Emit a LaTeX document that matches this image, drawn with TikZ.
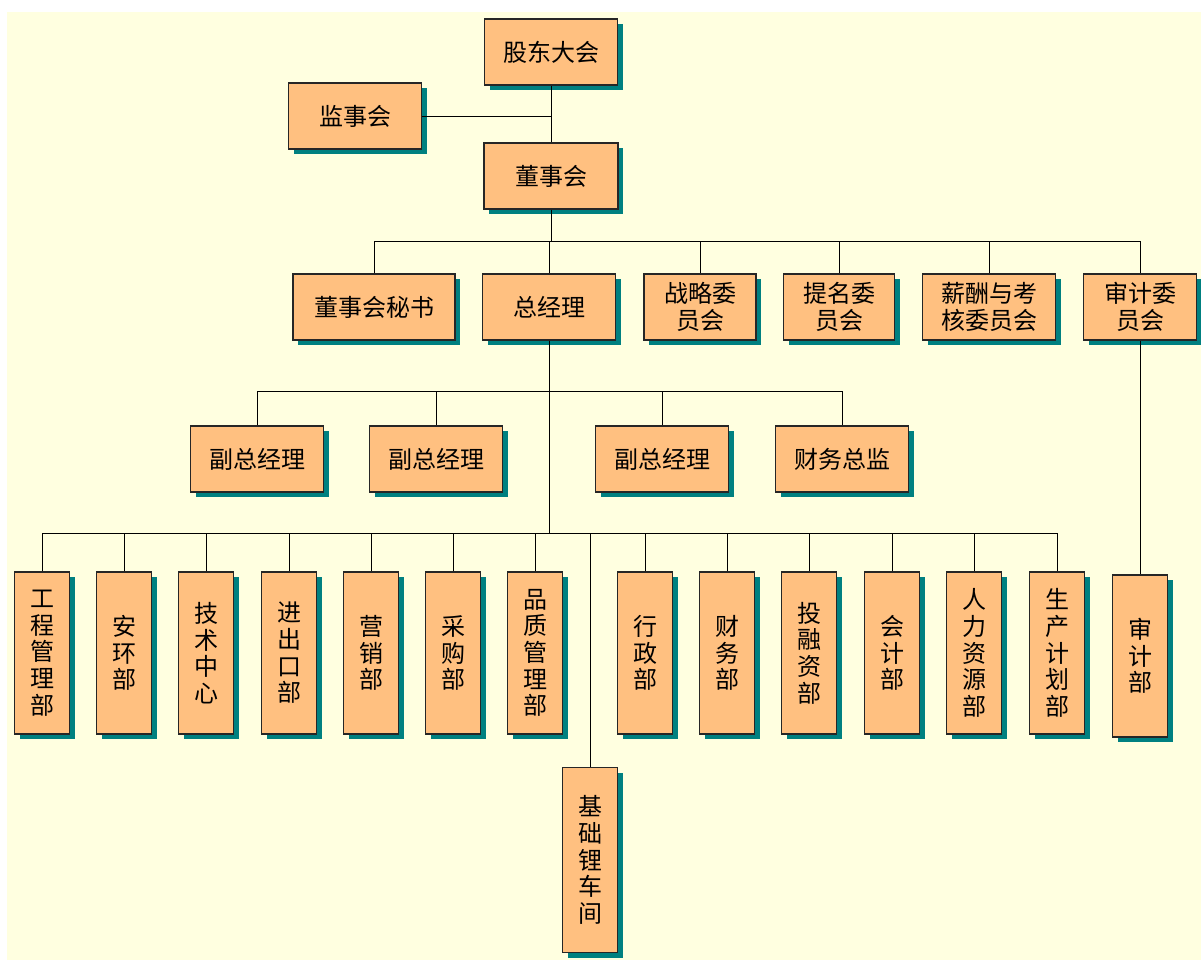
\documentclass[tikz,border=0pt]{standalone}
\usepackage{fontspec}
\newfontfamily\cjk{Noto Sans CJK SC}
\usetikzlibrary{shadows}
\definecolor{paper}{HTML}{FFFFE0}
\definecolor{peach}{HTML}{FFC080}
\definecolor{shade}{HTML}{008080}

\begin{document}
\begin{tikzpicture}[x=0.75pt, y=-0.75pt, line width=0.75pt,
	unit/.style={draw=black!85, line width=1pt, fill=peach, inner sep=0pt, align=center,
		font=\cjk\fontsize{18}{20}\selectfont,
		drop shadow={shadow xshift=3.75pt, shadow yshift=-3.75pt, fill=shade, opacity=1}},
	wide/.style={unit, minimum width=#1*0.75pt, minimum height=49.5pt},
	tall/.style={unit, minimum width=41.25pt, minimum height=#1*0.75pt}]

	% paper
	\fill[paper] (7,12) rectangle (1201,960);
	\useasboundingbox (0,0) rectangle (1201,960);

	% top
	\node[wide=133] (gudong) at (551,52) {股东大会};
	\node[wide=133] (jianshi) at (355,116) {监事会};
	\node[wide=134] (dongshi) at (551,176) {董事会};

	% board level
	\node[wide=162] (mishu) at (374,307) {董事会秘书};
	\node[wide=133] (zongjl) at (549,307) {总经理};
	\node[wide=112] (zhanlue) at (700,307) {战略委\\员会};
	\node[wide=111] (timing) at (839,307) {提名委\\员会};
	\node[wide=133] (xinchou) at (989,307) {薪酬与考\\核委员会};
	\node[wide=113] (shenjiwy) at (1140,307) {审计委\\员会};

	% deputies
	\node[wide=133] (fu1) at (257,459) {副总经理};
	\node[wide=133] (fu2) at (436,459) {副总经理};
	\node[wide=133] (fu3) at (662,459) {副总经理};
	\node[wide=133] (caiwuzj) at (842,459) {财务总监};

	% departments
	\node[tall=162] (gongcheng) at (42,653) {工\\程\\管\\理\\部};
	\node[tall=162] (anhuan) at (124,653) {安\\环\\部};
	\node[tall=162] (jishu) at (206,653) {技\\术\\中\\心};
	\node[tall=162] (jinchukou) at (289,653) {进\\出\\口\\部};
	\node[tall=162] (yingxiao) at (371,653) {营\\销\\部};
	\node[tall=162] (caigou) at (453,653) {采\\购\\部};
	\node[tall=162] (pinzhi) at (535,653) {品\\质\\管\\理\\部};
	\node[tall=162] (xingzheng) at (645,653) {行\\政\\部};
	\node[tall=162] (caiwu) at (727,653) {财\\务\\部};
	\node[tall=162] (tourong) at (809,653) {投\\融\\资\\部};
	\node[tall=162] (kuaiji) at (892,653) {会\\计\\部};
	\node[tall=162] (renli) at (974,653) {人\\力\\资\\源\\部};
	\node[tall=162] (shengchan) at (1057,653) {生\\产\\计\\划\\部};
	\node[tall=185] (jichu) at (590,860) {基\\础\\锂\\车\\间};
	\node[tall=162] (shenjibu) at (1140,656) {审\\计\\部};

	% bus heights
	\coordinate (busA) at (0,241);
	\coordinate (busB) at (0,391);
	\coordinate (busC) at (0,533);

	\draw (gudong) -- (dongshi);
	\draw (jianshi.east) -- (jianshi.east -| gudong.south);

	\draw (mishu.north) -- (mishu.north |- busA) -- (shenjiwy.north |- busA) -- (shenjiwy.north);
	\draw (dongshi.south) -- (dongshi.south |- busA);
	\foreach \n in {zongjl, zhanlue, timing, xinchou}
		\draw (\n.north) -- (\n.north |- busA);

	\draw (zongjl.south) -- (zongjl.south |- busC);
	\draw (fu1.north) -- (fu1.north |- busB) -- (caiwuzj.north |- busB) -- (caiwuzj.north);
	\foreach \n in {fu2, fu3}
		\draw (\n.north) -- (\n.north |- busB);

	\draw (gongcheng.north) -- (gongcheng.north |- busC) -- (shengchan.north |- busC) -- (shengchan.north);
	\foreach \n in {anhuan, jishu, jinchukou, yingxiao, caigou, pinzhi, xingzheng, caiwu, tourong, kuaiji, renli, jichu}
		\draw (\n.north) -- (\n.north |- busC);

	\draw (shenjiwy.south) -- (shenjibu.north);

\end{tikzpicture}
\end{document}
